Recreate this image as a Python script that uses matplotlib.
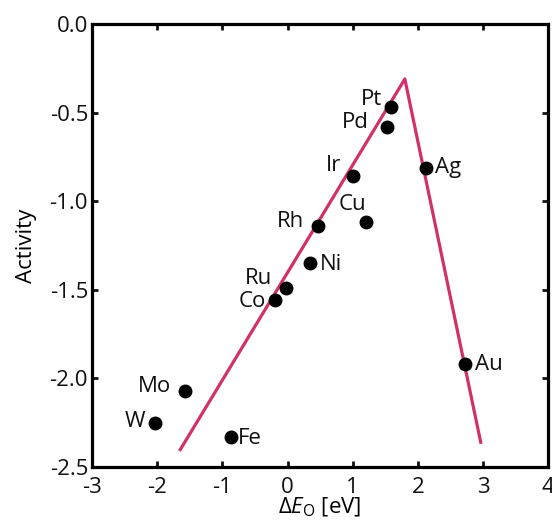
import matplotlib
matplotlib.use("Agg")
import matplotlib.pyplot as plt

plt.rcParams['font.family'] = ['Open Sans', 'DejaVu Sans']
plt.rcParams['mathtext.fontset'] = 'custom'
plt.rcParams['mathtext.rm'] = 'Open Sans'
plt.rcParams['mathtext.it'] = 'Open Sans:italic'

metals = ["Pt", "Pd", "Ir", "Cu", "Rh", "Ni", "Ru", "Co", "Ag", "Au", "Mo", "W", "Fe"]
dE_O = [1.58, 1.53, 1.01, 1.20, 0.46, 0.35, -0.03, -0.20, 2.12, 2.73, -1.57, -2.03, -0.87]
activity = [-0.47, -0.58, -0.86, -1.12, -1.14, -1.35, -1.49, -1.56, -0.81, -1.92, -2.07, -2.25, -2.33]

volcano_x = [-1.66, 1.80, 2.97]
volcano_y = [-2.41, -0.31, -2.37]

# label offsets in points (dx, dy, ha)
label_pos = {
    "Pt": (-6, 6, "right"), "Pd": (-13, 3, "right"), "Ir": (-9, 8, "right"),
    "Cu": (0, 13, "right"), "Rh": (-10, 3, "right"), "Ni": (7, -1, "left"),
    "Ru": (-10, 7, "right"), "Co": (-6, -1, "right"), "Ag": (7, 0, "left"),
    "Au": (7, 0, "left"), "Mo": (-10, 3, "right"), "W": (-7, 1, "right"),
    "Fe": (5, -1, "left"),
}

FS = 16

fig = plt.figure(figsize=(5.52, 5.24), dpi=100)
ax = fig.add_axes([0.167, 0.109, 0.826, 0.845])

ax.plot(volcano_x, volcano_y, color="#d1306b", lw=2.3, zorder=2, solid_capstyle="butt")
ax.plot(dE_O, activity, "o", color="black", ms=9, zorder=3)
for m, x, y in zip(metals, dE_O, activity):
    dx, dy, ha = label_pos[m]
    ax.annotate(m, (x, y), xytext=(dx, dy), textcoords="offset points",
                ha=ha, va="center", fontsize=FS, color="#111111")

ax.set_xlim(-3, 4)
ax.set_ylim(-2.5, 0.0)
ax.set_xticks(range(-3, 5))
ax.set_yticks([0.0, -0.5, -1.0, -1.5, -2.0, -2.5])
ax.set_yticklabels(["0.0", "-0.5", "-1.0", "-1.5", "-2.0", "-2.5"])
ax.set_xticklabels([str(v) for v in range(-3, 5)])
for s in ax.spines.values():
    s.set_linewidth(2.3)
ax.tick_params(direction="in", length=4, width=2, labelsize=FS,
               top=True, right=True, colors="#111111")
ax.tick_params(axis="x", pad=7)
ax.tick_params(axis="y", pad=3)
ax.set_xlabel(r"$\Delta E_{\mathrm{O}}$ [eV]", fontsize=FS, labelpad=-1)
ax.set_ylabel("Activity", fontsize=FS, labelpad=9)

fig.savefig("out.png", dpi=100)
